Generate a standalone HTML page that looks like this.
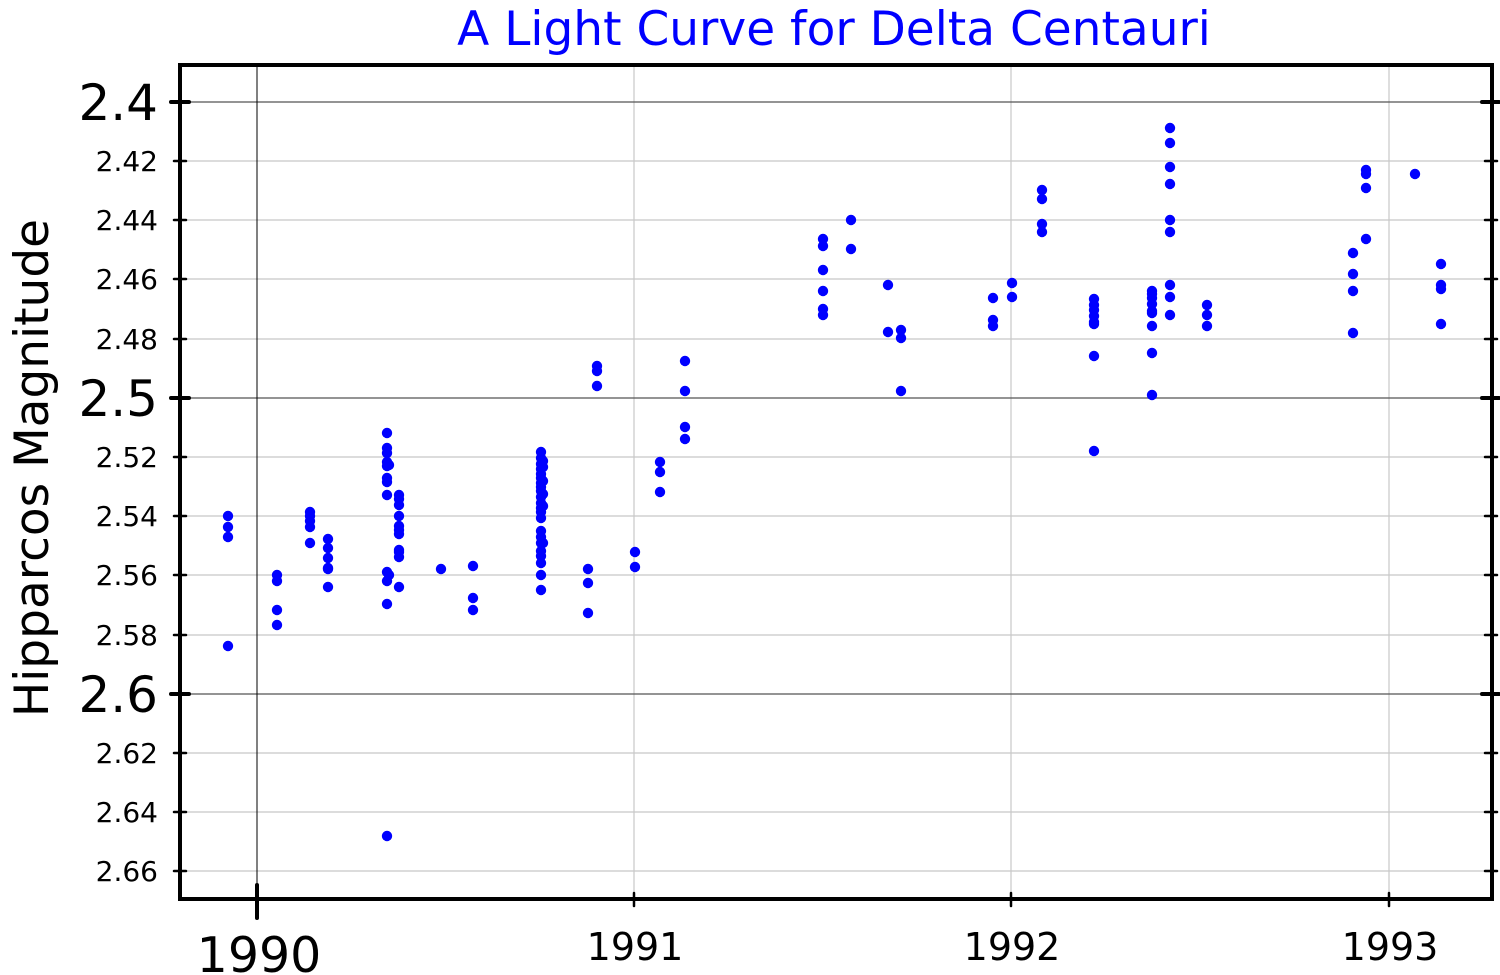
<!DOCTYPE html>
<html><head><meta charset="utf-8"><style>body{margin:0;background:#fff}svg{display:block}</style></head><body>
<svg width="1500" height="975" xmlns="http://www.w3.org/2000/svg" font-family="DejaVu Sans, Liberation Sans, sans-serif">
<rect width="1500" height="975" fill="#fff"/>
<g stroke="#c8c8c8" stroke-width="1.2">
<line x1="180" x2="1492" y1="161" y2="161"/><line x1="180" x2="1492" y1="220" y2="220"/><line x1="180" x2="1492" y1="279" y2="279"/><line x1="180" x2="1492" y1="339" y2="339"/>
<line x1="180" x2="1492" y1="457" y2="457"/><line x1="180" x2="1492" y1="516" y2="516"/><line x1="180" x2="1492" y1="575" y2="575"/><line x1="180" x2="1492" y1="635" y2="635"/>
<line x1="180" x2="1492" y1="753" y2="753"/><line x1="180" x2="1492" y1="812" y2="812"/><line x1="180" x2="1492" y1="871" y2="871"/>
<line x1="634" x2="634" y1="65" y2="899"/><line x1="1011" x2="1011" y1="65" y2="899"/><line x1="1389" x2="1389" y1="65" y2="899"/>
</g>
<g stroke="#555" stroke-width="1.2">
<line x1="180" x2="1492" y1="102" y2="102"/><line x1="180" x2="1492" y1="398" y2="398"/><line x1="180" x2="1492" y1="694" y2="694"/>
</g>
<line x1="257" x2="257" y1="65" y2="899" stroke="#000" stroke-width="1"/>
<g stroke="#000" stroke-linecap="round">
<g stroke-width="4">
<line x1="171" x2="189" y1="102" y2="102"/><line x1="171" x2="189" y1="398" y2="398"/><line x1="171" x2="189" y1="694" y2="694"/>
<line x1="1482" x2="1499" y1="102" y2="102"/><line x1="1482" x2="1499" y1="398" y2="398"/><line x1="1482" x2="1499" y1="694" y2="694"/>
<line x1="257" x2="257" y1="885" y2="918"/>
</g>
<g stroke-width="2.5">
<line x1="174" x2="186" y1="161" y2="161"/><line x1="174" x2="186" y1="220" y2="220"/><line x1="174" x2="186" y1="279" y2="279"/><line x1="174" x2="186" y1="339" y2="339"/><line x1="174" x2="186" y1="457" y2="457"/><line x1="174" x2="186" y1="516" y2="516"/><line x1="174" x2="186" y1="575" y2="575"/><line x1="174" x2="186" y1="635" y2="635"/><line x1="174" x2="186" y1="753" y2="753"/><line x1="174" x2="186" y1="812" y2="812"/><line x1="174" x2="186" y1="871" y2="871"/>
<line x1="1485" x2="1497" y1="161" y2="161"/><line x1="1485" x2="1497" y1="220" y2="220"/><line x1="1485" x2="1497" y1="279" y2="279"/><line x1="1485" x2="1497" y1="339" y2="339"/><line x1="1485" x2="1497" y1="457" y2="457"/><line x1="1485" x2="1497" y1="516" y2="516"/><line x1="1485" x2="1497" y1="575" y2="575"/><line x1="1485" x2="1497" y1="635" y2="635"/><line x1="1485" x2="1497" y1="753" y2="753"/><line x1="1485" x2="1497" y1="812" y2="812"/><line x1="1485" x2="1497" y1="871" y2="871"/>
<line x1="634" x2="634" y1="893" y2="906"/><line x1="1011" x2="1011" y1="893" y2="906"/><line x1="1389" x2="1389" y1="893" y2="906"/>
</g>
</g>
<path d="M180 65 H1492 V899 H180 Z" fill="none" stroke="#000" stroke-width="4"/>
<g fill="#0000ff" id="pts"></g>
<text x="834" y="45" text-anchor="middle" font-size="47" fill="#0000ff">A Light Curve for Delta Centauri</text>
<text transform="translate(48,468) rotate(-90)" text-anchor="middle" font-size="47" fill="#000">Hipparcos Magnitude</text>
<g font-size="50" text-anchor="end" fill="#000"><text x="158" y="120">2.4</text><text x="158" y="416">2.5</text><text x="158" y="712">2.6</text></g>
<g font-size="28" text-anchor="end" fill="#000">
<text x="158" y="171">2.42</text><text x="158" y="230">2.44</text><text x="158" y="289">2.46</text><text x="158" y="349">2.48</text>
<text x="158" y="467">2.52</text><text x="158" y="526">2.54</text><text x="158" y="585">2.56</text><text x="158" y="645">2.58</text>
<text x="158" y="763">2.62</text><text x="158" y="822">2.64</text><text x="158" y="881">2.66</text></g>
<text x="259" y="972" text-anchor="middle" font-size="49">1990</text>
<g font-size="38" text-anchor="middle"><text x="635" y="960">1991</text><text x="1012" y="960">1992</text><text x="1390" y="960">1993</text></g>
</svg>
<script>
var d={228:[516,527,537,646],277:[575,581,610,625],310:[512,516,521,527,543],328:[539,548,558,568,569,587],
387:[433,448,453,462,466,478,482,495,572,581,604,836],389:[465,575],399:[495,499,505,516,526,530,534,550,552,557,587],
441:[569],473:[566,598,610],541:[452,458,464,469,474,478,483,487,491,497,503,508,512,518,531,537,543,551,556,563,575,590],
543:[461,467,481,494,506,543],588:[569,583,613],597:[366,371,386],635:[552,567],660:[462,472,492],685:[361,391,427,439],
823:[239,246,270,291,309,315],851:[220,249],888:[285,332],901:[330,338,391],993:[298,320,326],1012:[283,297],
1042:[190,199,224,232],1094:[299,305,310,316,322,324,356,451],1152:[291,294,298,304,311,313,326,353,395],
1170:[128,143,167,184,220,232,285,297,315],1207:[305,315,326],1353:[253,274,291,333],1366:[170,174,188,239],1415:[174],1441:[264,285,289,324]};
var g=document.getElementById('pts'),s='';
for(var x in d)d[x].forEach(function(y){s+='<circle cx="'+x+'" cy="'+y+'" r="5.2"/>';});
g.innerHTML=s;
</script>
</body></html>
